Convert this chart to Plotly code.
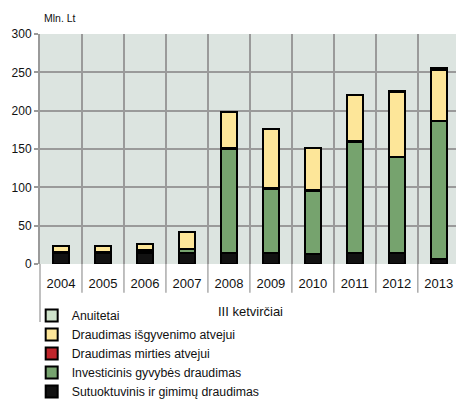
import plotly.graph_objects as go

years = ["2004", "2005", "2006", "2007", "2008", "2009", "2010", "2011", "2012", "2013"]
sutuoktuvinis = [15, 15, 14, 14, 14, 14, 13, 15, 15, 7]
investicinis = [0, 0, 3, 5, 136, 84, 82, 144, 124, 179]
mirties = [1, 1, 1, 1, 1, 1, 1, 1, 1, 1]
isgyvenimo = [7, 7, 8, 22, 47, 77, 55, 61, 84, 66]
anuitetai = [0, 0, 0, 0, 0, 0, 0, 0, 2, 3]

series = [
    ("Sutuoktuvinis ir gimimų draudimas", sutuoktuvinis, "#111111"),
    ("Investicinis gyvybės draudimas", investicinis, "#76a36e"),
    ("Draudimas mirties atvejui", mirties, "#c0262c"),
    ("Draudimas išgyvenimo atvejui", isgyvenimo, "#fde699"),
    ("Anuitetai", anuitetai, "#cfe3cb"),
]

FONT = "Liberation Sans, Arial, sans-serif"

fig = go.Figure()
for name, vals, col in series:
    fig.add_trace(go.Bar(
        x=years, y=vals, name=name,
        marker=dict(color=col, line=dict(color="#000000", width=2)),
    ))

grid = "#9a9a9a"
sep_shapes = []
for i in range(len(years) - 1):
    sep_shapes.append(dict(type="line", xref="x", yref="paper", x0=i + 0.5, x1=i + 0.5,
                           y0=0, y1=-0.125, line=dict(color="#ababab", width=1.5)))
sep_shapes.append(dict(type="line", xref="paper", yref="paper", x0=0, x1=0,
                       y0=0, y1=-0.252, line=dict(color="#ababab", width=1.5)))

fig.update_layout(
    width=456, height=400,
    margin=dict(l=40, r=0, t=34, b=136, autoexpand=False),
    barmode="stack", bargap=0.62,
    plot_bgcolor="#dce4e0", paper_bgcolor="#ffffff",
    font=dict(family=FONT, size=12, color="#111111"),
    xaxis=dict(type="category", range=[-0.5, 9.41], tickson="boundaries",
               showgrid=True, gridcolor=grid, gridwidth=2, ticks="",
               ticklabelstandoff=10, tickfont=dict(family=FONT, size=13),
               showline=False, zeroline=False, automargin=False),
    yaxis=dict(range=[0, 300], dtick=50, showgrid=True, gridcolor=grid, gridwidth=2,
               ticks="outside", ticklen=4, tickcolor=grid, tickwidth=1.5,
               ticklabelstandoff=0, tickfont=dict(family=FONT, size=12),
               showline=True, linecolor=grid, linewidth=2, zeroline=False,
               automargin=False),
    showlegend=True,
    legend=dict(orientation="v", traceorder="reversed", x=-0.02, xanchor="left",
                y=-0.161, yanchor="top", bgcolor="rgba(0,0,0,0)",
                font=dict(family=FONT, size=12.3), itemclick=False),
    shapes=sep_shapes,
    annotations=[
        dict(text="Mln. Lt", xref="paper", yref="paper", x=0.005, y=1.071,
             xanchor="left", yanchor="middle", showarrow=False,
             font=dict(family=FONT, size=10.5)),
        dict(text="III ketvirčiai", xref="paper", yref="paper", x=0.505, y=-0.2065,
             xanchor="center", yanchor="middle", showarrow=False,
             font=dict(family=FONT, size=13)),
    ],
)

fig.write_html("out.html", config={"displayModeBar": False},
               post_script="document.body.style.margin='0px';")
